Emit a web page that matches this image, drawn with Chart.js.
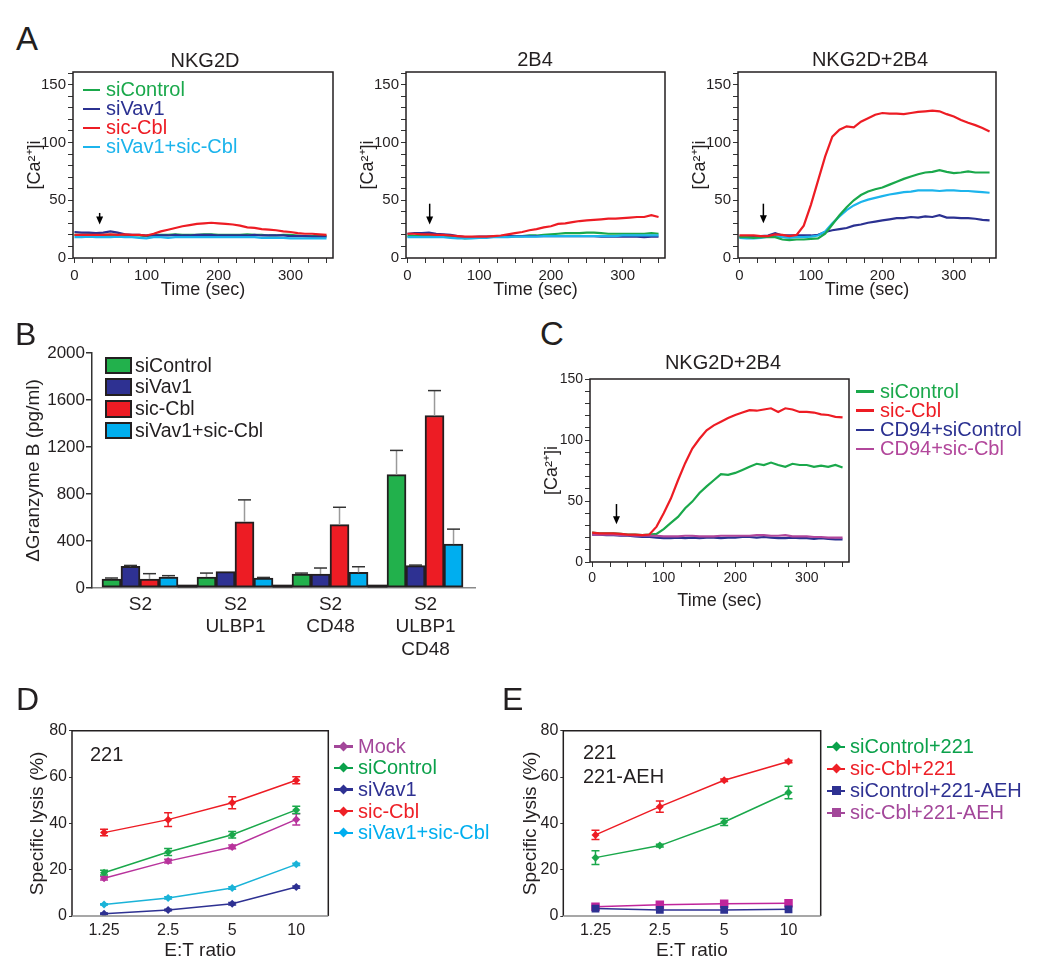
<!DOCTYPE html>
<html>
<head>
<meta charset="utf-8">
<script src="https://cdn.jsdelivr.net/npm/chart.js@4.4.0/dist/chart.umd.min.js"></script>
<style>
body { margin: 0; background: #fff; font-family: "Liberation Sans", Arial, sans-serif; }
#fig { position: relative; width: 1050px; height: 967px; overflow: hidden; }
.txt { position: absolute; white-space: nowrap; line-height: 1; color: #231f20; }
.sw { position: absolute; }
</style>
</head>
<body>
<div id="fig"></div>
<script>
// ---- data: calcium traces (time in sec, [Ca2+]i) ----
const timeSec = [0,10,20,30,40,50,60,70,80,90,100,110,120,130,140,150,160,170,180,190,200,210,220,230,240,250,260,270,280,290,300,310,320,330,340,350];

const traceNames = ['siControl', 'siVav1', 'sic-Cbl', 'siVav1+sic-Cbl'];
const traceColors = ['#1aa84b', '#2b3191', '#ed1c24', '#1cb4ec'];

const nkg2dControl = [20,20,20.5,20,20,20,20,20,19.5,19.5,19,20,20,20,20.5,20,20,20,20.5,20.5,20,20,20,20,20.5,20,20,19.5,19.5,20,20,19.5,19,19,19,19];
const nkg2dVav1 = [22.5,22,22,21.5,22,23,22,20.5,20,20,19.5,19.5,19.5,19.5,20,19.5,19.5,20,20,20,19.5,19.5,19.5,19.5,19.5,20,19.5,19.5,19.5,19.5,19,19,19,18.5,18.5,18.5];
const nkg2dCbl = [20,20,20,20,20,20.5,20,20.5,20,20,19.5,21,23,24.5,26,27.5,28.5,29.5,30,30.5,30,29.5,29,28,26.5,26,25,24.5,24,23,22.5,21.5,21,21,20.5,20];
const nkg2dCombo = [18,18,18.5,18,18,18,18.5,18,18,17.5,17,18,18,17.5,18,18,18,18,18,18,18,18,18,18,18,18,17.5,17.5,17.5,17.5,17,17,17,17,17,17];

const b4Control = [19,19,19,19,19,19,18.5,18,17,17.5,18,18,18.5,18.5,18.5,19,19,19.5,19.5,20,20.5,21,21.5,21.5,21.5,22,22,21.5,21,21,21,21,21,21,21.5,21];
const b4Vav1 = [21,21.5,21.5,22,21,20.5,20,19,18,18,18.5,18.5,18.5,18.5,19,19,19,19,19,19,19,19,19,19,19,19,19,18.5,18.5,18.5,18.5,18.5,18.5,18,18.5,18.5];
const b4Cbl = [21,21,20.5,20.5,20,20,19.5,19,18.5,18.5,18.5,18.5,19,19.5,20.5,21.5,22.5,24,25,26.5,27.5,29.5,30,31,32,32.5,33,33.5,34,34,34.5,35,35.5,35.5,37,35.5];
const b4Combo = [18,18,18,18,18,18,17.5,17,17,17,17.5,17.5,18,18,18,18.5,18.5,18.5,18.5,19,19,19,19,19,19,19,19,19,19,19,19.5,19.5,19.5,19.5,19.5,19.5];

const bothControl = [18,18,17.5,18,18,18,16,15.5,16,16,16.5,17,21,29,37,44,50,54.5,57.5,59.5,61,63.5,66,68.5,70.5,72.5,74,74.5,76,74.5,73.5,74,75,74,74,74];
const bothVav1 = [18.5,18.5,18.5,19,19.5,21.5,19.5,19.5,19.5,19.5,19.5,20,22.5,24,25,26,28,29,30.5,31.5,32.5,33.5,34.5,34.5,35.5,35,36,35.5,37,35,35,34.5,34.5,34,33,32.5];
const bothCbl = [19.5,19.5,19.5,19,19,20.5,20,19,20,28,46,67,88,105,111,114,113,118,121,124,125.5,125,125,124.5,125.5,126.5,127,127.5,127,124.5,122.5,119.5,117,115,112.5,109.5];
const bothCombo = [17.5,17,17,17.5,18.5,19,18,17.5,18,18,18.5,19.5,23,30,36,41.5,45.5,48.5,50.5,52,53.5,55,56,57,57.5,58.5,58.5,58.5,58,58.5,58.5,58,58,57.5,57,56.5];

const cNames = ['siControl', 'sic-Cbl', 'CD94+siControl', 'CD94+sic-Cbl'];
const cColors = ['#1aa84b', '#ed1c24', '#2b3191', '#b2479b'];
const cControl = [24,23.5,23.5,23.5,23,22.5,22.5,22,22.5,23,27,32,37,44,49.5,56.5,62,67,72,71.5,73,75.5,78,80.5,79.5,81.5,79.5,78,80.5,79.5,79.5,78,79,78,79.5,77.5];
const cCbl = [24,23.5,23.5,23.5,23,22.5,22.5,22,22.5,29,40,52,67,81,93,101,108,112,115,118,120.5,122.5,124.5,124,125,126,123,126,125,123,123,122.5,121,120.5,119,118.5];
const cCd94Control = [22.5,22.5,22,22,21.5,21.5,21,20.5,20.5,20,19.5,19.5,20,19.5,20,19.5,20,20,19.5,20,20,20.5,20.5,20,20.5,20,19.5,19.5,20,19.5,19.5,19,19.5,19,18.5,18.5];
const cCd94Cbl = [22.5,22.5,22.5,22.5,22,22,21.5,21.5,21.5,21.5,21,21,21,21.5,21.5,21,21,21,21.5,21.5,21.5,21.5,21.5,22,22,21.5,21.5,22,21,21,21,20.5,20.5,20,20,20];

// stimulus arrows: time, value at tail, value at tip
const arrowA1 = [35, 39, 29];
const arrowA2 = [31, 47, 29];
const arrowA3 = [33.5, 47, 30];
const arrowC = [34, 47.5, 31];

// ---- data: granzyme B release ----
const groupLabels = [['S2'], ['S2', 'ULBP1'], ['S2', 'CD48'], ['S2', 'ULBP1', 'CD48']];
const groupPos = [0, 1, 2, 3];
const barNames = ['siControl', 'siVav1', 'sic-Cbl', 'siVav1+sic-Cbl'];
const barColors = ['#22b14c', '#2e3192', '#ed1c24', '#00aeef'];
const gzControl = [76, 93, 119, 965];
const gzVav1 = [184, 139, 119, 190];
const gzCbl = [76, 563, 540, 1468];
const gzCombo = [93, 85, 133, 373];
const gzControlErr = [9, 34, 8, 206];
const gzVav1Err = [8, 0, 51, 5];
const gzCblErr = [46, 187, 147, 212];
const gzComboErr = [12, 5, 48, 128];
const gzBlank = [0, 0, 0, null];

// ---- data: specific lysis ----
const ratioLabels = ['1.25', '2.5', '5', '10'];
const dNames = ['Mock', 'siControl', 'siVav1', 'sic-Cbl', 'siVav1+sic-Cbl'];
const dColors = ['#b8339c', '#1aa84b', '#2e3192', '#ed1c24', '#1ab3d8'];
const dLegendColors = ['#a3479a', '#0ba14b', '#2e3192', '#ee2027', '#00aeef'];
const lysisMock = [16.3, 23.7, 29.8, 41.7];
const lysisControl = [18.7, 27.6, 35.1, 45.8];
const lysisVav1 = [1.0, 2.6, 5.3, 12.5];
const lysisCbl = [36.0, 41.6, 48.9, 58.6];
const lysisCombo = [5.0, 7.8, 12.1, 22.3];
const lysisMockErr = [0.8, 0.8, 0.8, 2.4];
const lysisControlErr = [1.0, 1.5, 1.4, 1.6];
const lysisVav1Err = [0.3, 0.3, 0.5, 0.5];
const lysisCblErr = [1.4, 3.0, 2.6, 1.5];
const lysisComboErr = [0.3, 0.5, 0.5, 0.5];

const eNames = ['siControl+221', 'sic-Cbl+221', 'siControl+221-AEH', 'sic-Cbl+221-AEH'];
const eColors = ['#1aa84b', '#ed1c24', '#2e3192', '#c0259b'];
const eLegendColors = ['#0ba14b', '#ee2027', '#2e3192', '#a3479a'];
const aehControl221 = [25.2, 30.4, 40.6, 53.3];
const aehCbl221 = [35.0, 47.2, 58.6, 66.7];
const aehControlAeh = [3.2, 2.6, 2.6, 2.9];
const aehCblAeh = [4.0, 4.9, 5.3, 5.5];
const aehControl221Err = [3.0, 0.6, 1.5, 2.7];
const aehCbl221Err = [2.0, 2.4, 0.5, 0.5];

Chart.defaults.font.family = '"Liberation Sans", Arial, sans-serif';
Chart.defaults.color = '#231f20';

const fig = document.getElementById('fig');
const INK = '#231f20';

function addCanvas(left, top, w, h) {
    const c = document.createElement('canvas');
    c.width = w;
    c.height = h;
    c.style.cssText = 'position:absolute;left:' + left + 'px;top:' + top + 'px;width:' + w + 'px;height:' + h + 'px';
    fig.appendChild(c);
    return c;
}

// text placed by its baseline
function addText(text, x, baseline, size, color, center) {
    const d = document.createElement('div');
    d.className = 'txt';
    d.textContent = text;
    d.style.left = x + 'px';
    d.style.top = (baseline - 0.8465 * size) + 'px';
    d.style.fontSize = size + 'px';
    if (color) d.style.color = color;
    if (center) d.style.transform = 'translateX(-50%)';
    fig.appendChild(d);
}

function addSwatch(x, y, w, h, color, css) {
    const d = document.createElement('div');
    d.className = 'sw';
    d.style.cssText = 'left:' + x + 'px;top:' + y + 'px;width:' + w + 'px;height:' + h + 'px;background:' + color + ';' + (css || '');
    fig.appendChild(d);
}

// box round the plot area
const frame = {
    id: 'frame',
    afterDraw(chart, args, opts) {
        const {ctx, chartArea: a} = chart;
        ctx.save();
        ctx.lineWidth = opts.width || 1.5;
        ctx.strokeStyle = opts.color || INK;
        ctx.beginPath();
        ctx.moveTo(a.left, a.bottom);
        ctx.lineTo(a.left, a.top);
        ctx.lineTo(a.right, a.top);
        ctx.lineTo(a.right, a.bottom);
        if (!opts.bottomColor) ctx.lineTo(a.left, a.bottom);
        ctx.stroke();
        if (opts.bottomColor) {
            ctx.strokeStyle = opts.bottomColor;
            ctx.beginPath();
            ctx.moveTo(a.left, a.bottom);
            ctx.lineTo(a.right, a.bottom);
            ctx.stroke();
        }
        ctx.restore();
    }
};

// stimulus arrow
const arrowMark = {
    id: 'arrowMark',
    afterDatasetsDraw(chart, args, opts) {
        const {ctx, scales: {x, y}} = chart;
        const px = x.getPixelForValue(opts.at[0]);
        const y0 = y.getPixelForValue(opts.at[1]);
        const y1 = y.getPixelForValue(opts.at[2]);
        ctx.save();
        ctx.strokeStyle = '#000';
        ctx.fillStyle = '#000';
        ctx.lineWidth = 1.5;
        ctx.beginPath();
        ctx.moveTo(px, y0);
        ctx.lineTo(px, y1 - 6);
        ctx.stroke();
        ctx.beginPath();
        ctx.moveTo(px - 3.5, y1 - 8);
        ctx.lineTo(px + 3.5, y1 - 8);
        ctx.lineTo(px, y1);
        ctx.closePath();
        ctx.fill();
        ctx.restore();
    }
};

// symmetric error bars for line charts
const lineErrors = {
    id: 'lineErrors',
    afterDatasetsDraw(chart) {
        const {ctx} = chart;
        const y = chart.scales.y;
        chart.data.datasets.forEach((ds, i) => {
            if (!ds.errors) return;
            const meta = chart.getDatasetMeta(i);
            ctx.save();
            ctx.strokeStyle = ds.borderColor;
            ctx.lineWidth = 1.5;
            meta.data.forEach((pt, j) => {
                const e = ds.errors[j];
                if (!e) return;
                const top = y.getPixelForValue(ds.data[j] + e);
                const bot = y.getPixelForValue(ds.data[j] - e);
                ctx.beginPath();
                ctx.moveTo(pt.x, top);
                ctx.lineTo(pt.x, bot);
                ctx.moveTo(pt.x - 4, top);
                ctx.lineTo(pt.x + 4, top);
                ctx.moveTo(pt.x - 4, bot);
                ctx.lineTo(pt.x + 4, bot);
                ctx.stroke();
            });
            ctx.restore();
        });
    }
};

// upward error bars for the bar chart
const barErrors = {
    id: 'barErrors',
    afterDatasetsDraw(chart) {
        const {ctx} = chart;
        const y = chart.scales.y;
        chart.data.datasets.forEach((ds, i) => {
            if (!ds.errors) return;
            const meta = chart.getDatasetMeta(i);
            meta.data.forEach((bar, j) => {
                const e = ds.errors[j];
                if (!e) return;
                const v = ds.data[j].y;
                const top = y.getPixelForValue(v + e);
                const base = y.getPixelForValue(v);
                ctx.save();
                ctx.lineWidth = 1.5;
                ctx.strokeStyle = '#9a9a9a';
                ctx.beginPath();
                ctx.moveTo(bar.x, base);
                ctx.lineTo(bar.x, top);
                ctx.stroke();
                ctx.strokeStyle = '#333';
                ctx.beginPath();
                ctx.moveTo(bar.x - 6.5, top);
                ctx.lineTo(bar.x + 6.5, top);
                ctx.stroke();
                ctx.restore();
            });
        });
    }
};

function traceChart(canvas, series, cfg) {
    return new Chart(canvas, {
        type: 'line',
        data: {
            datasets: series.map(s => ({
                data: s.values.map((v, k) => ({x: timeSec[k], y: v})),
                borderColor: s.color,
                borderWidth: 2.2,
                pointRadius: 0,
                tension: 0,
                order: s.order
            }))
        },
        options: {
            responsive: false,
            animation: false,
            events: [],
            layout: {padding: cfg.pad},
            plugins: {
                legend: {display: false},
                tooltip: {enabled: false},
                arrowMark: {at: cfg.arrow},
                frame: {width: 1.5}
            },
            scales: {
                x: {
                    type: 'linear',
                    min: cfg.xMin,
                    max: 359,
                    afterFit: s => { s.height = cfg.xh; },
                    border: {display: false},
                    grid: {drawOnChartArea: false, tickLength: 5, color: '#333'},
                    ticks: {
                        stepSize: 25, autoSkip: false, includeBounds: false, maxRotation: 0,
                        padding: cfg.tickPad, font: {size: cfg.tickSize},
                        callback: v => (v % 100 === 0 ? String(v) : '')
                    },
                    title: {display: true, text: 'Time (sec)', font: {size: 18}, color: INK}
                },
                y: {
                    min: 0,
                    max: cfg.yMax,
                    afterFit: s => { s.width = cfg.yw; },
                    border: {display: false},
                    grid: {drawOnChartArea: false, tickLength: 5, color: '#333'},
                    ticks: {
                        stepSize: 10, autoSkip: false, includeBounds: false,
                        padding: 2, font: {size: cfg.tickSize},
                        callback: v => (v % 50 === 0 ? String(v) : '')
                    },
                    title: {display: true, text: '[Ca\u00b2\u207a]i', font: {size: 18}, color: INK}
                }
            }
        },
        plugins: [frame, arrowMark]
    });
}

function lysisChart(canvas, series, cfg) {
    return new Chart(canvas, {
        type: 'line',
        data: {
            labels: ratioLabels,
            datasets: series.map((s, i) => ({
                data: s.values,
                errors: s.errors,
                borderColor: s.color,
                backgroundColor: s.color,
                borderWidth: 1.5,
                pointStyle: s.marker,
                pointRadius: s.radius,
                pointBorderWidth: 0,
                tension: 0,
                order: i
            }))
        },
        options: {
            responsive: false,
            animation: false,
            events: [],
            layout: {padding: cfg.pad},
            plugins: {
                legend: {display: false},
                tooltip: {enabled: false},
                frame: {width: 1.5, bottomColor: '#8a8a8a'}
            },
            scales: {
                x: {
                    type: 'category',
                    offset: true,
                    afterFit: s => { s.height = 50; },
                    border: {display: false},
                    grid: {display: false, drawTicks: false},
                    ticks: {padding: 5, font: {size: 16}, maxRotation: 0},
                    title: {display: true, text: 'E:T ratio', font: {size: 19}, color: INK}
                },
                y: {
                    min: 0,
                    max: 80,
                    afterFit: s => { s.width = cfg.yw; },
                    border: {display: false},
                    grid: {drawOnChartArea: false, tickLength: 3, color: '#333'},
                    ticks: {stepSize: 20, padding: 2, font: {size: 16}},
                    title: {display: true, text: 'Specific lysis (%)', font: {size: 19}, color: INK}
                }
            }
        },
        plugins: [frame, lineErrors]
    });
}

// ---- panel A ----
traceChart(addCanvas(0, 60, 345, 250), [
    {values: nkg2dControl, color: traceColors[0], order: 3},
    {values: nkg2dVav1, color: traceColors[1], order: 2},
    {values: nkg2dCbl, color: traceColors[2], order: 0},
    {values: nkg2dCombo, color: traceColors[3], order: 1}
], {pad: {left: 20, top: 12, right: 12, bottom: 5}, yw: 53, xh: 47, xMin: -2, yMax: 161, tickPad: 4, tickSize: 15, arrow: arrowA1});

traceChart(addCanvas(345, 60, 332, 250), [
    {values: b4Control, color: traceColors[0], order: 3},
    {values: b4Vav1, color: traceColors[1], order: 2},
    {values: b4Cbl, color: traceColors[2], order: 0},
    {values: b4Combo, color: traceColors[3], order: 1}
], {pad: {left: 8, top: 12, right: 12, bottom: 5}, yw: 53, xh: 47, xMin: -2, yMax: 161, tickPad: 4, tickSize: 15, arrow: arrowA2});

traceChart(addCanvas(677, 60, 373, 250), [
    {values: bothControl, color: traceColors[0], order: 1},
    {values: bothVav1, color: traceColors[1], order: 3},
    {values: bothCbl, color: traceColors[2], order: 0},
    {values: bothCombo, color: traceColors[3], order: 2}
], {pad: {left: 8, top: 12, right: 54, bottom: 5}, yw: 53, xh: 47, xMin: -2, yMax: 161, tickPad: 4, tickSize: 15, arrow: arrowA3});

addText('A', 16, 50, 33);
addText('NKG2D', 205, 66.5, 20, null, true);
addText('2B4', 535, 66, 20, null, true);
addText('NKG2D+2B4', 870, 66, 20, null, true);
traceNames.forEach((n, i) => {
    const base = 96 + i * 19.1;
    addSwatch(83, base - 7.5, 17, 2.5, traceColors[i]);
    addText(n, 106, base, 20, traceColors[i]);
});

// ---- panel B ----
const gzSeries = [gzControl, gzVav1, gzCbl, gzCombo];
const gzErrors = [gzControlErr, gzVav1Err, gzCblErr, gzComboErr];
const barSets = gzSeries.map((vals, i) => ({
    data: vals.map((v, k) => ({x: groupPos[k], y: v})),
    errors: gzErrors[i],
    backgroundColor: barColors[i],
    borderColor: INK,
    borderWidth: 2,
    borderSkipped: false
}));
barSets.push({
    data: gzBlank.map((v, k) => ({x: groupPos[k], y: v})),
    backgroundColor: INK,
    borderWidth: 0,
    minBarLength: 3
});

new Chart(addCanvas(0, 330, 530, 330), {
    type: 'bar',
    data: {datasets: barSets},
    options: {
        responsive: false,
        animation: false,
        events: [],
        layout: {padding: {left: 18, top: 23, right: 55, bottom: 0}},
        barPercentage: 1,
        categoryPercentage: 1,
        plugins: {legend: {display: false}, tooltip: {enabled: false}},
        scales: {
            x: {
                type: 'linear',
                offset: false,
                min: -0.605,
                max: 3.426,
                afterFit: s => { s.height = 72; },
                border: {display: true, color: '#8a8a8a', width: 1.5},
                grid: {display: false, offset: false, drawTicks: false},
                ticks: {
                    stepSize: 1, includeBounds: false, autoSkip: false, maxRotation: 0,
                    padding: 5, labelOffset: -9, font: {size: 19},
                    callback: v => groupLabels[v] || ''
                }
            },
            y: {
                min: 0,
                max: 2000,
                afterFit: s => { s.width = 74; },
                border: {display: true, color: '#333', width: 1.5},
                grid: {drawOnChartArea: false, tickLength: 6, color: '#333', lineWidth: 1.5},
                ticks: {stepSize: 400, padding: 1, font: {size: 17}, callback: v => String(v)},
                title: {display: true, text: '\u0394Granzyme B (pg/ml)', font: {size: 19}, color: INK}
            }
        }
    },
    plugins: [barErrors]
});

addText('B', 15, 345, 32);
barNames.forEach((n, i) => {
    const top = 356.7 + i * 21.7;
    addSwatch(105, top, 27, 17.5, barColors[i], 'box-sizing:border-box;border:2.5px solid ' + INK + ';');
    addText(n, 135, top + 15.6, 19.5);
});

// ---- panel C ----
traceChart(addCanvas(530, 365, 330, 252), [
    {values: cControl, color: cColors[0], order: 2},
    {values: cCbl, color: cColors[1], order: 0},
    {values: cCd94Control, color: cColors[2], order: 3},
    {values: cCd94Cbl, color: cColors[3], order: 1}
], {pad: {left: 7, top: 14, right: 11, bottom: 1}, yw: 53, xh: 54, xMin: -3, yMax: 150, tickPad: 3, tickSize: 14, arrow: arrowC});

addText('C', 540, 345, 33);
addText('NKG2D+2B4', 723, 369.3, 20, null, true);
cNames.forEach((n, i) => {
    const base = 397.7 + i * 19.2;
    addSwatch(856, base - 7.5, 18, 2.5, cColors[i]);
    addText(n, 880, base, 20, cColors[i]);
});

// ---- panel D ----
lysisChart(addCanvas(0, 715, 340, 252), [
    {values: lysisMock, errors: lysisMockErr, color: dColors[0], marker: 'rectRot', radius: 4},
    {values: lysisControl, errors: lysisControlErr, color: dColors[1], marker: 'rectRot', radius: 4},
    {values: lysisVav1, errors: lysisVav1Err, color: dColors[2], marker: 'rectRot', radius: 4},
    {values: lysisCbl, errors: lysisCblErr, color: dColors[3], marker: 'rectRot', radius: 4},
    {values: lysisCombo, errors: lysisComboErr, color: dColors[4], marker: 'rectRot', radius: 4}
], {pad: {left: 22, top: 15.7, right: 11.7, bottom: 1}, yw: 50});

addText('D', 16, 710, 32);
addText('221', 90, 760.7, 20);
dNames.forEach((n, i) => {
    const base = 752.7 + i * 21.65;
    addSwatch(334, base - 7.7, 19, 2.5, dLegendColors[i]);
    addSwatch(340, base - 9.9, 7, 7, dLegendColors[i], 'transform:rotate(45deg);');
    addText(n, 358, base, 20, dLegendColors[i]);
});

// ---- panel E ----
lysisChart(addCanvas(500, 715, 330, 252), [
    {values: aehControl221, errors: aehControl221Err, color: eColors[0], marker: 'rectRot', radius: 4},
    {values: aehCbl221, errors: aehCbl221Err, color: eColors[1], marker: 'rectRot', radius: 4},
    {values: aehControlAeh, errors: null, color: eColors[2], marker: 'rect', radius: 5.5},
    {values: aehCblAeh, errors: null, color: eColors[3], marker: 'rect', radius: 6}
], {pad: {left: 15, top: 15.7, right: 9.3, bottom: 1}, yw: 48.3});

addText('E', 502, 710, 32);
addText('221', 583, 759.3, 20);
addText('221-AEH', 583, 783.3, 20);
eNames.forEach((n, i) => {
    const base = 753.3 + i * 22;
    addSwatch(827, base - 7.7, 18, 2.5, eLegendColors[i]);
    if (i < 2) {
        addSwatch(832.5, base - 9.9, 7, 7, eLegendColors[i], 'transform:rotate(45deg);');
    } else {
        addSwatch(831.5, base - 11, 9, 9, eLegendColors[i]);
    }
    addText(n, 850, base, 20, eLegendColors[i]);
});
</script>
</body>
</html>
